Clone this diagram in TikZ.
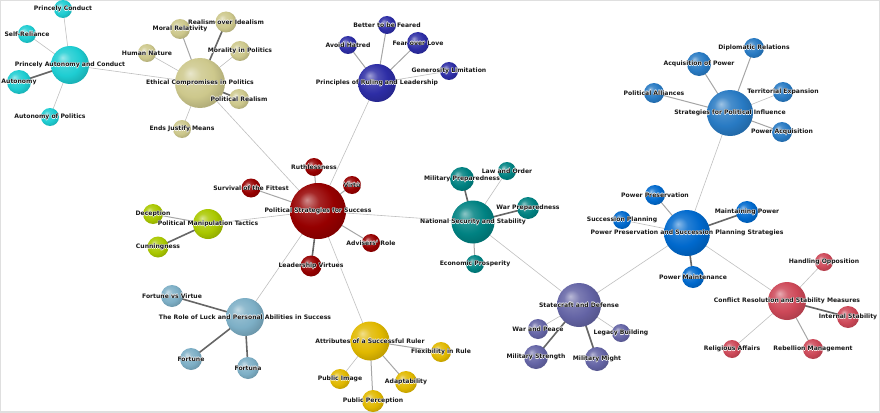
\documentclass[tikz,border=0pt]{standalone}
\usepackage{fontspec}
\setsansfont{DejaVu Sans}
\usetikzlibrary{backgrounds}

\definecolor{cyanball}{RGB}{30,205,210}
\definecolor{oliveball}{RGB}{205,200,140}
\definecolor{navyball}{RGB}{45,45,165}
\definecolor{redball}{RGB}{150,0,0}
\definecolor{limeball}{RGB}{170,200,0}
\definecolor{tealball}{RGB}{0,130,130}
\definecolor{steelball}{RGB}{125,175,198}
\definecolor{goldball}{RGB}{225,185,0}
\definecolor{slateball}{RGB}{100,100,165}
\definecolor{blueball}{RGB}{0,105,205}
\definecolor{skyball}{RGB}{40,122,195}
\definecolor{roseball}{RGB}{205,72,88}

% softer sphere shading than the stock ball
\makeatletter
\pgfdeclareradialshading[tikz@ball]{orbshade}{\pgfqpoint{-10bp}{10bp}}{%
  color(0bp)=(tikz@ball!45!white);
  color(9bp)=(tikz@ball!85!white);
  color(20bp)=(tikz@ball);
  color(30bp)=(tikz@ball!85!black);
  color(42bp)=(tikz@ball!65!black);
  color(50bp)=(tikz@ball!55!black)}
\makeatother

\newcommand{\halo}[1]{\leavevmode
  \rlap{\color{white}\hspace{-0.45pt}#1}\rlap{\color{white}\hspace{0.45pt}#1}%
  \rlap{\color{white}\raisebox{0.45pt}{#1}}\rlap{\color{white}\raisebox{-0.45pt}{#1}}#1}

\tikzset{
  orb/.style={circle, inner sep=0pt, minimum size=#1pt},
  orbc/.style={ball color=#1, shading=orbshade},
  lbl/.style={font=\sffamily\bfseries\fontsize{6.1}{7}\selectfont, text=black!90, inner sep=0pt},
  lnk/.style={draw=gray!50, line width=0.6pt},
  lnkm/.style={draw=gray!70, line width=1pt},
  lnkb/.style={draw=gray!80!black, line width=1.6pt},
}

\begin{document}
\begin{tikzpicture}[x=1pt, y=-1pt]
    \useasboundingbox (0,0) rectangle (880,412);
    \draw[gray!25, line width=2pt] (0,0) rectangle (880,412); % frame

    % hubs
    \node[orb=56, orbc=redball] (strategies) at (318,211) {};
    \node[orb=50, orbc=oliveball] (ethical) at (200,83) {};
    \node[orb=38, orbc=cyanball] (princely) at (70,65) {};
    \node[orb=38, orbc=navyball] (principles) at (377,83) {};
    \node[orb=30, orbc=limeball] (manip) at (208,224) {};
    \node[orb=43, orbc=tealball] (natsec) at (473,222) {};
    \node[orb=38, orbc=steelball] (luck) at (245,317) {};
    \node[orb=39, orbc=goldball] (attrib) at (370,341) {};
    \node[orb=44, orbc=slateball] (statecraft) at (579,305) {};
    \node[orb=46, orbc=blueball] (ppsp) at (687,233) {};
    \node[orb=46, orbc=skyball] (spi) at (730,113) {};
    \node[orb=38, orbc=roseball] (conflict) at (787,301) {};

    % princely autonomy
    \node[orb=18, orbc=cyanball] (conduct) at (63,9) {};
    \node[orb=18, orbc=cyanball] (selfrel) at (27,34) {};
    \node[orb=24, orbc=cyanball] (autonomy) at (19,82) {};
    \node[orb=18, orbc=cyanball] (autpol) at (50,117) {};

    % ethical compromises
    \node[orb=20, orbc=oliveball] (moral) at (180,29) {};
    \node[orb=21, orbc=oliveball] (realism) at (226,22) {};
    \node[orb=18, orbc=oliveball] (human) at (147,53) {};
    \node[orb=20, orbc=oliveball] (morality) at (240,51) {};
    \node[orb=20, orbc=oliveball] (polrealism) at (239,99) {};
    \node[orb=18, orbc=oliveball] (ends) at (182,129) {};

    % principles of ruling
    \node[orb=18, orbc=navyball] (feared) at (387,25) {};
    \node[orb=18, orbc=navyball] (hatred) at (348,45) {};
    \node[orb=22, orbc=navyball] (fearlove) at (418,43) {};
    \node[orb=18, orbc=navyball] (generosity) at (449,71) {};

    % political strategies
    \node[orb=18, orbc=redball] (ruthless) at (314,167) {};
    \node[orb=18, orbc=redball] (virtu) at (352,185) {};
    \node[orb=19, orbc=redball] (fittest) at (251,188) {};
    \node[orb=18, orbc=redball] (advisers) at (371,243) {};
    \node[orb=21, orbc=redball] (leadership) at (311,266) {};

    % manipulation
    \node[orb=20, orbc=limeball] (deception) at (153,214) {};
    \node[orb=21, orbc=limeball] (cunning) at (158,247) {};

    % national security
    \node[orb=24, orbc=tealball] (milprep) at (462,179) {};
    \node[orb=18, orbc=tealball] (laworder) at (507,171) {};
    \node[orb=22, orbc=tealball] (warprep) at (528,208) {};
    \node[orb=18, orbc=tealball] (econ) at (475,264) {};

    % luck and abilities
    \node[orb=22, orbc=steelball] (fvv) at (172,296) {};
    \node[orb=22, orbc=steelball] (fortune) at (191,359) {};
    \node[orb=22, orbc=steelball] (fortuna) at (248,368) {};

    % successful ruler
    \node[orb=20, orbc=goldball] (flex) at (441,352) {};
    \node[orb=20, orbc=goldball] (pubimg) at (340,379) {};
    \node[orb=22, orbc=goldball] (adapt) at (406,382) {};
    \node[orb=22, orbc=goldball] (pubperc) at (373,401) {};

    % statecraft
    \node[orb=20, orbc=slateball] (warpeace) at (538,329) {};
    \node[orb=24, orbc=slateball] (milstr) at (536,357) {};
    \node[orb=18, orbc=slateball] (legacy) at (621,333) {};
    \node[orb=24, orbc=slateball] (milmight) at (597,359) {};

    % power preservation
    \node[orb=20, orbc=blueball] (powpres) at (655,195) {};
    \node[orb=18, orbc=blueball] (succ) at (622,220) {};
    \node[orb=22, orbc=blueball] (maint) at (747,212) {};
    \node[orb=22, orbc=blueball] (powmaint) at (693,277) {};

    % political influence
    \node[orb=24, orbc=skyball] (acq) at (699,64) {};
    \node[orb=20, orbc=skyball] (diplo) at (754,48) {};
    \node[orb=20, orbc=skyball] (alliance) at (654,93) {};
    \node[orb=20, orbc=skyball] (territ) at (783,92) {};
    \node[orb=20, orbc=skyball] (powacq) at (782,132) {};

    % conflict resolution
    \node[orb=18, orbc=roseball] (handling) at (824,262) {};
    \node[orb=22, orbc=roseball] (internal) at (848,317) {};
    \node[orb=18, orbc=roseball] (religious) at (732,349) {};
    \node[orb=20, orbc=roseball] (rebellion) at (813,349) {};

    \begin{scope}[on background layer]
    % hub to hub
    \draw[lnk] (strategies.center) -- (ethical.center);
    \draw[lnk] (strategies.center) -- (principles.center);
    \draw[lnk] (strategies.center) -- (natsec.center);
    \draw[lnk] (strategies.center) -- (manip.center);
    \draw[lnk] (strategies.center) -- (luck.center);
    \draw[lnk] (strategies.center) -- (attrib.center);
    \draw[lnk] (ethical.center) -- (princely.center);
    \draw[lnk] (natsec.center) -- (statecraft.center);
    \draw[lnk] (statecraft.center) -- (ppsp.center);
    \draw[lnk] (ppsp.center) -- (spi.center);
    \draw[lnk] (ppsp.center) -- (conflict.center);
    % leaves
    \draw[lnk] (princely.center) -- (conduct.center);
    \draw[lnk] (princely.center) -- (selfrel.center);
    \draw[lnkb] (princely.center) -- (autonomy.center);
    \draw[lnk] (princely.center) -- (autpol.center);
    \draw[lnkm] (ethical.center) -- (moral.center);
    \draw[lnkb] (ethical.center) -- (realism.center);
    \draw[lnk] (ethical.center) -- (human.center);
    \draw[lnk] (ethical.center) -- (morality.center);
    \draw[lnkb] (ethical.center) -- (polrealism.center);
    \draw[lnk] (ethical.center) -- (ends.center);
    \draw[lnkm] (principles.center) -- (feared.center);
    \draw[lnkm] (principles.center) -- (hatred.center);
    \draw[lnkm] (principles.center) -- (fearlove.center);
    \draw[lnk] (principles.center) -- (generosity.center);
    \draw[lnkm] (strategies.center) -- (ruthless.center);
    \draw[lnkm] (strategies.center) -- (virtu.center);
    \draw[lnkm] (strategies.center) -- (fittest.center);
    \draw[lnkm] (strategies.center) -- (advisers.center);
    \draw[lnkb] (strategies.center) -- (leadership.center);
    \draw[lnkm] (manip.center) -- (deception.center);
    \draw[lnkb] (manip.center) -- (cunning.center);
    \draw[lnkb] (natsec.center) -- (milprep.center);
    \draw[lnk] (natsec.center) -- (laworder.center);
    \draw[lnkb] (natsec.center) -- (warprep.center);
    \draw[lnkm] (natsec.center) -- (econ.center);
    \draw[lnkb] (luck.center) -- (fvv.center);
    \draw[lnkb] (luck.center) -- (fortune.center);
    \draw[lnkb] (luck.center) -- (fortuna.center);
    \draw[lnkm] (attrib.center) -- (flex.center);
    \draw[lnk] (attrib.center) -- (pubimg.center);
    \draw[lnkm] (attrib.center) -- (adapt.center);
    \draw[lnkm] (attrib.center) -- (pubperc.center);
    \draw[lnk] (statecraft.center) -- (warpeace.center);
    \draw[lnkb] (statecraft.center) -- (milstr.center);
    \draw[lnk] (statecraft.center) -- (legacy.center);
    \draw[lnkb] (statecraft.center) -- (milmight.center);
    \draw[lnkm] (ppsp.center) -- (powpres.center);
    \draw[lnk] (ppsp.center) -- (succ.center);
    \draw[lnkb] (ppsp.center) -- (maint.center);
    \draw[lnkb] (ppsp.center) -- (powmaint.center);
    \draw[lnkm] (spi.center) -- (acq.center);
    \draw[lnkm] (spi.center) -- (diplo.center);
    \draw[lnkm] (spi.center) -- (alliance.center);
    \draw[lnk] (spi.center) -- (territ.center);
    \draw[lnkm] (spi.center) -- (powacq.center);
    \draw[lnk] (conflict.center) -- (handling.center);
    \draw[lnkb] (conflict.center) -- (internal.center);
    \draw[lnk] (conflict.center) -- (religious.center);
    \draw[lnkm] (conflict.center) -- (rebellion.center);
    \end{scope}

    % labels on top
    \foreach \n/\t in {strategies/Political Strategies for Success,
        ethical/Ethical Compromises in Politics, princely/Princely Autonomy and Conduct,
        principles/Principles of Ruling and Leadership, manip/Political Manipulation Tactics,
        natsec/National Security and Stability,
        luck/The Role of Luck and Personal Abilities in Success,
        attrib/Attributes of a Successful Ruler, statecraft/Statecraft and Defense,
        ppsp/Power Preservation and Succession Planning Strategies,
        spi/Strategies for Political Influence, conflict/Conflict Resolution and Stability Measures,
        conduct/Princely Conduct, selfrel/Self-Reliance, autonomy/Autonomy,
        autpol/Autonomy of Politics, moral/Moral Relativity, realism/Realism over Idealism,
        human/Human Nature, morality/Morality in Politics, polrealism/Political Realism,
        ends/Ends Justify Means, feared/Better to be Feared, hatred/Avoid Hatred,
        fearlove/Fear over Love, generosity/Generosity Limitation, ruthless/Ruthlessness,
        virtu/Virtù, fittest/Survival of the Fittest, advisers/Advisers' Role,
        leadership/Leadership Virtues, deception/Deception, cunning/Cunningness,
        milprep/Military Preparedness, laworder/Law and Order, warprep/War Preparedness,
        econ/Economic Prosperity, fvv/Fortune vs Virtue, fortune/Fortune, fortuna/Fortuna,
        flex/Flexibility in Rule, pubimg/Public Image, adapt/Adaptability,
        pubperc/Public Perception, warpeace/War and Peace, milstr/Military Strength,
        legacy/Legacy Building, milmight/Military Might, powpres/Power Preservation,
        succ/Succession Planning, maint/Maintaining Power, powmaint/Power Maintenance,
        acq/Acquisition of Power, diplo/Diplomatic Relations, alliance/Political Alliances,
        territ/Territorial Expansion, powacq/Power Acquisition, handling/Handling Opposition,
        internal/Internal Stability, religious/Religious Affairs, rebellion/Rebellion Management}
        \node[lbl] (\n-t) at (\n) {\halo{\t}};
\end{tikzpicture}
\end{document}
